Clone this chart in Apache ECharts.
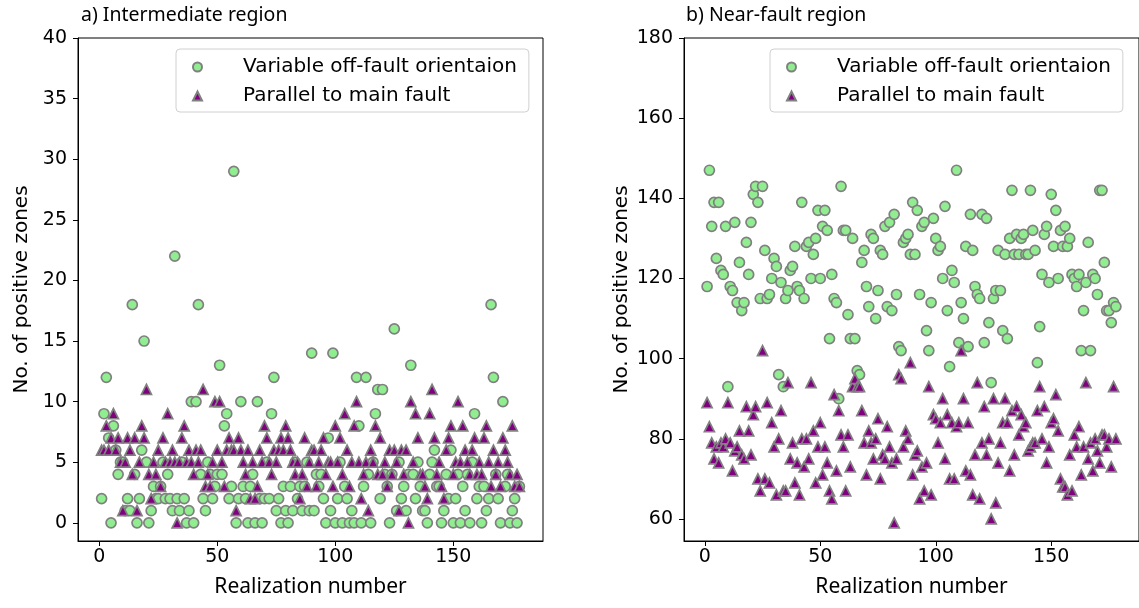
<!DOCTYPE html>
<html>
<head>
<meta charset="utf-8">
<script src="https://cdn.jsdelivr.net/npm/echarts@6.0.0/dist/echarts.min.js"></script>
<style>
  html, body { margin: 0; padding: 0; background: #fff; }
  #chart { width: 1139px; height: 608px; }
</style>
</head>
<body>
<div id="chart"></div>
<script>
// one value per realization, realization numbers 1..178 (index + 1)
const interVariable = [
  2, 9, 12, 7, 0, 8, 6, 4, 5, 5,
  1, 2, 1, 18, 4, 0, 2, 6, 15, 5,
  0, 1, 3, 2, 2, 3, 5, 2, 4, 2,
  1, 22, 2, 1, 5, 2, 0, 1, 10, 0,
  10, 18, 4, 2, 1, 5, 4, 2, 3, 4,
  13, 4, 8, 9, 2, 3, 29, 0, 2, 10,
  3, 2, 0, 3, 4, 0, 10, 2, 0, 2,
  5, 2, 9, 12, 1, 2, 0, 3, 1, 0,
  3, 1, 5, 2, 3, 1, 3, 5, 1, 14,
  1, 4, 3, 4, 2, 0, 7, 1, 14, 0,
  2, 5, 0, 3, 2, 0, 1, 0, 12, 8,
  0, 3, 12, 4, 0, 5, 9, 11, 2, 11,
  4, 3, 0, 4, 16, 1, 5, 2, 3, 1,
  4, 13, 4, 2, 5, 3, 1, 1, 0, 4,
  5, 6, 3, 3, 0, 1, 4, 2, 6, 0,
  2, 4, 0, 3, 1, 4, 0, 5, 9, 2,
  3, 0, 3, 1, 2, 18, 12, 4, 2, 0,
  10, 3, 4, 0, 1, 2, 0, 3
];
const interParallel = [
  6, 6, 8, 6, 7, 9, 6, 7, 5, 1,
  5, 7, 6, 4, 7, 1, 5, 8, 7, 11,
  4, 2, 5, 4, 6, 3, 7, 5, 9, 5,
  6, 5, 0, 5, 7, 8, 5, 6, 5, 4,
  6, 5, 6, 11, 3, 4, 3, 5, 10, 6,
  10, 5, 3, 6, 7, 6, 6, 1, 7, 6,
  5, 4, 6, 2, 5, 2, 3, 6, 5, 8,
  7, 5, 4, 6, 5, 6, 7, 6, 8, 7,
  6, 5, 4, 5, 2, 4, 7, 3, 5, 6,
  6, 3, 5, 6, 7, 4, 5, 5, 3, 8,
  5, 7, 4, 9, 6, 3, 5, 8, 10, 5,
  2, 4, 5, 1, 6, 5, 8, 4, 7, 4,
  5, 3, 6, 4, 6, 5, 1, 6, 4, 6,
  0, 10, 5, 9, 7, 4, 4, 3, 2, 9,
  11, 7, 4, 5, 3, 2, 6, 7, 8, 4,
  5, 10, 5, 8, 6, 5, 4, 6, 7, 4,
  5, 4, 7, 8, 5, 3, 6, 4, 5, 3,
  7, 6, 5, 4, 8, 3, 4, 3
];
const nearVariable = [
  118, 147, 133, 139, 125, 139, 122, 121, 133, 93,
  118, 117, 134, 114, 124, 112, 114, 129, 121, 134,
  141, 143, 139, 115, 143, 127, 115, 116, 120, 125,
  123, 96, 119, 93, 115, 117, 122, 123, 128, 118,
  117, 139, 115, 128, 129, 120, 126, 130, 137, 120,
  133, 137, 132, 105, 121, 115, 114, 90, 143, 132,
  132, 111, 105, 130, 105, 97, 96, 124, 127, 118,
  113, 131, 130, 110, 117, 127, 126, 133, 113, 134,
  112, 136, 116, 103, 102, 129, 130, 131, 126, 139,
  126, 137, 116, 133, 134, 107, 102, 114, 135, 130,
  127, 128, 120, 138, 112, 98, 122, 119, 147, 104,
  114, 110, 128, 103, 136, 127, 118, 116, 115, 136,
  104, 135, 109, 94, 115, 117, 127, 117, 107, 126,
  105, 130, 142, 126, 131, 126, 130, 131, 126, 126,
  142, 132, 127, 99, 108, 121, 131, 133, 119, 141,
  128, 137, 120, 132, 128, 133, 128, 130, 121, 120,
  118, 121, 102, 112, 119, 129, 102, 121, 120, 116,
  142, 142, 124, 112, 112, 109, 114, 113
];
const nearParallel = [
  89, 83, 79, 75, 78, 74, 79, 78, 80, 89,
  79, 72, 77, 78, 82, 76, 75, 88, 82, 76,
  86, 88, 70, 67, 102, 70, 89, 69, 84, 78,
  66, 80, 87, 67, 67, 94, 75, 79, 69, 74,
  66, 80, 73, 80, 75, 94, 82, 69, 78, 84,
  71, 78, 74, 67, 65, 91, 72, 87, 81, 78,
  67, 81, 73, 93, 95, 93, 93, 87, 79, 71,
  82, 79, 75, 80, 85, 70, 76, 75, 83, 78,
  74, 59, 75, 96, 95, 78, 82, 80, 99, 71,
  76, 77, 65, 73, 67, 74, 93, 66, 86, 85,
  79, 84, 90, 75, 86, 70, 84, 70, 83, 84,
  102, 90, 72, 84, 71, 66, 76, 94, 65, 79,
  88, 76, 80, 60, 90, 64, 74, 79, 84, 90,
  84, 72, 87, 76, 88, 81, 86, 83, 84, 77,
  78, 79, 79, 87, 93, 80, 88, 74, 78, 84,
  85, 91, 82, 70, 68, 68, 66, 76, 67, 81,
  78, 83, 71, 78, 94, 75, 79, 72, 80, 77,
  74, 81, 81, 78, 80, 73, 93, 80
];

const xTicks = [0, 50, 100, 150];
const interYTicks = [0, 5, 10, 15, 20, 25, 30, 35, 40];
const nearYTicks = [60, 80, 100, 120, 140, 160, 180];

const nameVariable = 'Variable off-fault orientaion';
const nameParallel = 'Parallel to main fault';

const tickFont = { fontFamily: 'DejaVu Sans', fontSize: 19, color: '#000' };

const toPoints = arr => arr.map((v, i) => [i + 1, v]);

function xAxisFor(gridIndex) {
    return {
        type: 'value', gridIndex: gridIndex, min: -9, max: 188,
        name: 'Realization number', nameLocation: 'middle', nameGap: 36,
        nameTextStyle: { fontFamily: 'Noto Sans', fontSize: 21, color: '#000' },
        axisLine: { show: true, onZero: false, lineStyle: { color: '#000', width: 1 } },
        axisTick: { show: true, inside: false, length: 5, lineStyle: { color: '#000' }, customValues: xTicks },
        axisLabel: Object.assign({ margin: 7, customValues: xTicks }, tickFont),
        splitLine: { show: false }
    };
}

function yAxisFor(gridIndex, min, max, ticks, gap) {
    return {
        type: 'value', gridIndex: gridIndex, min: min, max: max,
        name: 'No. of positive zones', nameLocation: 'middle', nameGap: gap,
        nameTextStyle: { fontFamily: 'DejaVu Sans', fontSize: 20, color: '#000' },
        axisLine: { show: true, onZero: false, lineStyle: { color: '#000', width: 1 } },
        axisTick: { show: true, inside: false, length: 5, lineStyle: { color: '#000' }, customValues: ticks },
        axisLabel: Object.assign({ margin: 11, customValues: ticks }, tickFont),
        splitLine: { show: false }
    };
}

function scatter(name, idx, data, symbol, color) {
    return {
        type: 'scatter', name: name, xAxisIndex: idx, yAxisIndex: idx,
        data: toPoints(data), symbol: symbol, symbolSize: 10,
        itemStyle: { color: color, borderColor: '#808080', borderWidth: 1.7, opacity: 1 },
        emphasis: { disabled: true },
        animation: false
    };
}

function legendAt(left) {
    return {
        left: left, top: 49, orient: 'vertical',
        data: [nameVariable, nameParallel],
        itemWidth: 9, itemHeight: 9, itemGap: 9,
        padding: [8, 12, 6, 16],
        backgroundColor: 'rgba(255,255,255,0.8)',
        borderColor: '#d0d0d0', borderWidth: 1, borderRadius: 4,
        textStyle: { fontFamily: 'DejaVu Sans', fontSize: 20, lineHeight: 20, color: '#000', padding: [0, 0, 0, 36] },
        selectedMode: false
    };
}

const chart = echarts.init(document.getElementById('chart'), null, { renderer: 'canvas' });
chart.setOption({
    backgroundColor: '#fff',
    animation: false,
    title: [
        { text: 'a) Intermediate region', left: 81, top: 5, padding: 0,
          textStyle: { fontFamily: 'Noto Sans', fontSize: 19.5, fontWeight: 'normal', color: '#000' } },
        { text: 'b) Near-fault region', left: 686, top: 5, padding: 0,
          textStyle: { fontFamily: 'Noto Sans', fontSize: 19.5, fontWeight: 'normal', color: '#000' } }
    ],
    legend: [legendAt(176), legendAt(770)],
    grid: [
        { left: 78, top: 38, width: 465, height: 503, show: true, borderColor: '#000', borderWidth: 1, containLabel: false },
        { left: 684, top: 38, width: 465, height: 503, show: true, borderColor: '#000', borderWidth: 1, containLabel: false }
    ],
    xAxis: [xAxisFor(0), xAxisFor(1)],
    yAxis: [
        yAxisFor(0, -1.5, 40, interYTicks, 46),
        yAxisFor(1, 54.5, 180, nearYTicks, 52)
    ],
    series: [
        scatter(nameVariable, 0, interVariable, 'circle', '#90ee90'),
        scatter(nameParallel, 0, interParallel, 'triangle', '#800080'),
        scatter(nameVariable, 1, nearVariable, 'circle', '#90ee90'),
        scatter(nameParallel, 1, nearParallel, 'triangle', '#800080')
    ]
});
</script>
</body>
</html>
